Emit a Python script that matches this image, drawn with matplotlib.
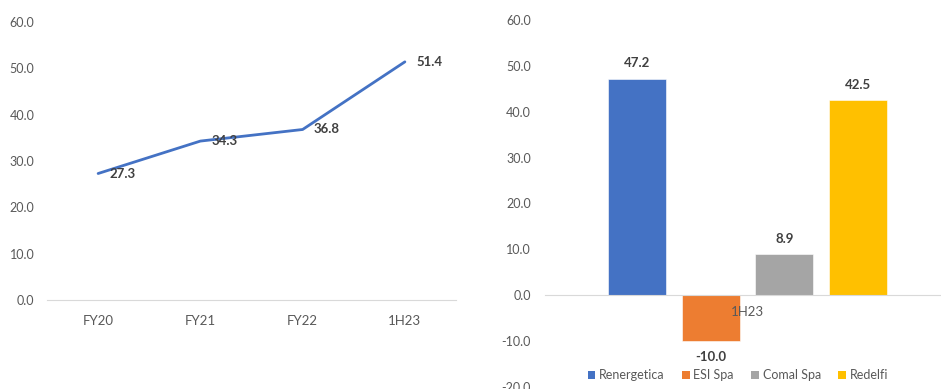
import matplotlib
matplotlib.use("Agg")
import matplotlib.pyplot as plt
from matplotlib.patches import Patch

plt.rcParams["font.family"] = ["Lato", "DejaVu Sans"]

# left panel: line series
periods = ["FY20", "FY21", "FY22", "1H23"]
values = [27.3, 34.3, 36.8, 51.4]

# right panel: one category, four companies
peer_category = ["1H23"]
companies = ["Renergetica", "ESI Spa", "Comal Spa", "Redelfi"]
peer_values = [47.2, -10.0, 8.9, 42.5]
peer_colors = ["#4472C4", "#ED7D31", "#A5A5A5", "#FFC000"]

W, H = 941, 389
fig = plt.figure(figsize=(W / 100, H / 100), dpi=100)
TICK = "#595959"
LABEL = "#404040"

# ---- left: line chart
ax = fig.add_axes([47 / W, 1 - 300 / H, 409 / W, 278 / H])
x = list(range(len(periods)))
ax.plot(x, values, color="#4472C4", linewidth=2.0, solid_capstyle="round")
for xi, v in zip(x, values):
    ax.annotate(f"{v:.1f}", (xi, v), xytext=(8, 0), textcoords="offset points",
                ha="left", va="center", fontsize=9.5, fontweight="bold", color=LABEL)
ax.set_xlim(-0.5, len(periods) - 0.5)
ax.set_ylim(0, 60)
ax.set_yticks(range(0, 61, 10))
ax.set_yticklabels([f"{t:.1f}" for t in range(0, 61, 10)])
ax.set_xticks(x, periods)
for s in ["top", "right", "left"]:
    ax.spines[s].set_visible(False)
ax.spines["bottom"].set_color("#D9D9D9")
ax.tick_params(axis="y", length=0, pad=9, labelsize=9, labelcolor=TICK)
ax.tick_params(axis="x", length=0, pad=11, labelsize=9.5, labelcolor=TICK)

# ---- right: grouped bar chart
bx = fig.add_axes([545 / W, 1 - 387 / H, 405 / W, 367 / H])
step, width = 0.182, 0.143
n = len(companies)
for i, (name, v, c) in enumerate(zip(companies, peer_values, peer_colors)):
    pos = (i - (n - 1) / 2) * step
    bx.bar(pos, v, width=width, color=c, edgecolor="white", linewidth=0.4, label=name, zorder=1)
    off = 7 if v >= 0 else -7
    bx.annotate(f"{v:.1f}", (pos, v), xytext=(0, off), textcoords="offset points",
                ha="center", va="bottom" if v >= 0 else "top",
                fontsize=9.5, fontweight="bold", color=LABEL)
bx.set_xlim(-0.5, 0.5)
bx.set_ylim(-20, 60)
bx.set_yticks(range(-20, 61, 10))
bx.set_yticklabels([f"{t:.1f}" for t in range(-20, 61, 10)])
bx.set_xticks([0], peer_category)
for s in ["top", "right", "left"]:
    bx.spines[s].set_visible(False)
bx.spines["bottom"].set_position(("data", 0))
bx.spines["bottom"].set_color("#D9D9D9")
bx.tick_params(axis="y", length=0, pad=10, labelsize=9, labelcolor=TICK)
bx.tick_params(axis="x", length=0, pad=8, labelsize=9.5, labelcolor=TICK)

handles = [Patch(facecolor=c, edgecolor="none") for c in peer_colors]
fig.legend(handles, companies, loc="center", bbox_to_anchor=(738 / W, 1 - 375 / H),
           ncol=4, frameon=False, fontsize=9, handlelength=0.6, handleheight=0.6,
           handletextpad=0.3, columnspacing=1.4, labelcolor=TICK)

fig.savefig("out.png", dpi=100, facecolor="white")
